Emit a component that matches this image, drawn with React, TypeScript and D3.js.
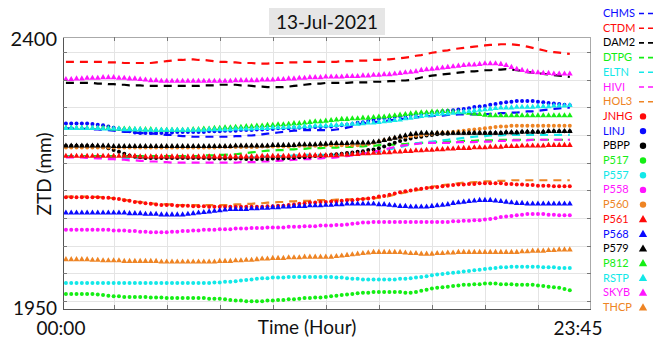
import React, { useEffect, useRef } from 'react';
import * as d3 from 'd3';

// ZTD (mm) per 15-min epoch, 96 epochs from 00:00 to 23:45
const CHMS = [
  2249, 2249, 2248, 2248, 2248, 2247, 2247, 2246, 2246, 2245, 2244, 2243, 2243, 2242, 2241, 2241, 2240, 2240, 2239, 2238,
  2238, 2237, 2236, 2236, 2235, 2235, 2235, 2235, 2235, 2235, 2235, 2235, 2236, 2236, 2237, 2237, 2238, 2239, 2240, 2241,
  2242, 2243, 2244, 2245, 2245, 2246, 2246, 2246, 2246, 2246, 2246, 2247, 2248, 2250, 2252, 2255, 2257, 2258, 2259, 2260,
  2261, 2262, 2263, 2264, 2265, 2266, 2267, 2268, 2269, 2269, 2270, 2270, 2271, 2271, 2272, 2272, 2272, 2272, 2272, 2272,
  2273, 2273, 2274, 2274, 2275, 2275, 2276, 2277, 2277, 2278, 2279, 2280, 2281, 2282, 2283, 2283,
];
const CTDM = [
  2359, 2359, 2359, 2359, 2359, 2359, 2359, 2359, 2358, 2358, 2358, 2357, 2357, 2357, 2357, 2357, 2357, 2358, 2359, 2360,
  2361, 2362, 2362, 2363, 2363, 2362, 2362, 2361, 2360, 2359, 2359, 2358, 2358, 2357, 2357, 2357, 2356, 2356, 2356, 2357,
  2357, 2357, 2358, 2358, 2358, 2359, 2359, 2359, 2359, 2359, 2359, 2359, 2360, 2360, 2360, 2361, 2361, 2361, 2362, 2362,
  2363, 2363, 2364, 2365, 2366, 2367, 2369, 2370, 2372, 2374, 2375, 2377, 2378, 2380, 2381, 2382, 2383, 2384, 2385, 2386,
  2387, 2387, 2388, 2388, 2388, 2387, 2386, 2384, 2382, 2380, 2378, 2376, 2375, 2374, 2373, 2372,
];
const DAM2 = [
  2324, 2324, 2324, 2324, 2324, 2324, 2323, 2323, 2322, 2322, 2321, 2321, 2320, 2320, 2320, 2319, 2319, 2319, 2319, 2319,
  2319, 2319, 2319, 2319, 2319, 2319, 2320, 2320, 2320, 2321, 2321, 2321, 2321, 2320, 2320, 2319, 2318, 2318, 2317, 2317,
  2317, 2317, 2318, 2319, 2320, 2321, 2322, 2323, 2323, 2324, 2324, 2324, 2324, 2324, 2325, 2325, 2325, 2325, 2326, 2326,
  2326, 2327, 2327, 2328, 2328, 2329, 2331, 2333, 2335, 2336, 2337, 2338, 2339, 2340, 2341, 2342, 2343, 2343, 2344, 2345,
  2345, 2346, 2346, 2347, 2346, 2345, 2344, 2342, 2341, 2340, 2339, 2338, 2337, 2336, 2335, 2334,
];
const DTPG = [
  2203, 2203, 2203, 2203, 2203, 2203, 2203, 2203, 2203, 2203, 2203, 2203, 2203, 2203, 2203, 2203, 2203, 2203, 2203, 2203,
  2203, 2203, 2203, 2203, 2203, 2203, 2204, 2204, 2204, 2205, 2205, 2206, 2206, 2207, 2208, 2209, 2210, 2211, 2212, 2212,
  2213, 2213, 2214, 2214, 2215, 2215, 2216, 2216, 2216, 2217, 2217, 2217, 2218, 2218, 2218, 2219, 2219, 2220, 2220, 2221,
  2221, 2222, 2222, 2223, 2223, 2224, 2224, 2225, 2225, 2226, 2226, 2226, 2227, 2227, 2227, 2228, 2228, 2228, 2229, 2229,
  2229, 2229, 2230, 2230, 2230, 2230, 2230, 2230, 2230, 2230, 2230, 2230, 2230, 2230, 2230, 2230,
];
const ELTN = [
  2202, 2202, 2202, 2202, 2201, 2201, 2201, 2201, 2201, 2201, 2200, 2200, 2200, 2200, 2200, 2200, 2200, 2200, 2200, 2200,
  2200, 2200, 2200, 2200, 2200, 2200, 2200, 2200, 2200, 2200, 2200, 2200, 2200, 2201, 2201, 2201, 2201, 2202, 2202, 2202,
  2203, 2203, 2203, 2204, 2204, 2205, 2205, 2205, 2205, 2205, 2205, 2205, 2205, 2206, 2206, 2207, 2207, 2208, 2209, 2210,
  2212, 2214, 2216, 2218, 2220, 2222, 2224, 2225, 2226, 2227, 2228, 2229, 2230, 2231, 2232, 2233, 2234, 2235, 2236, 2236,
  2237, 2237, 2237, 2238, 2238, 2238, 2238, 2238, 2238, 2238, 2238, 2238, 2238, 2238, 2238, 2238,
];
const HIVI = [
  2201, 2201, 2201, 2201, 2200, 2200, 2199, 2199, 2198, 2198, 2197, 2197, 2196, 2196, 2195, 2195, 2194, 2194, 2193, 2193,
  2192, 2192, 2192, 2192, 2192, 2192, 2192, 2192, 2192, 2192, 2192, 2192, 2192, 2193, 2193, 2193, 2193, 2194, 2194, 2195,
  2195, 2196, 2196, 2197, 2197, 2198, 2198, 2199, 2199, 2200, 2200, 2201, 2202, 2203, 2204, 2205, 2207, 2208, 2210, 2212,
  2214, 2216, 2218, 2220, 2221, 2222, 2223, 2224, 2225, 2225, 2225, 2225, 2225, 2225, 2226, 2226, 2226, 2226, 2227, 2227,
  2227, 2228, 2228, 2228, 2229, 2229, 2229, 2229, 2230, 2230, 2230, 2230, 2230, 2230, 2230, 2230,
];
const HOL3 = [
  2136, 2136, 2136, 2136, 2136, 2136, 2135, 2135, 2134, 2133, 2132, 2131, 2129, 2128, 2127, 2126, 2125, 2124, 2124, 2123,
  2123, 2122, 2122, 2122, 2122, 2122, 2122, 2122, 2122, 2122, 2122, 2122, 2123, 2123, 2124, 2124, 2125, 2125, 2126, 2126,
  2127, 2127, 2128, 2128, 2129, 2129, 2129, 2130, 2130, 2130, 2130, 2131, 2131, 2131, 2132, 2132, 2132, 2133, 2133, 2134,
  2135, 2137, 2139, 2141, 2143, 2144, 2146, 2148, 2150, 2152, 2154, 2155, 2156, 2157, 2158, 2159, 2159, 2160, 2160, 2161,
  2161, 2162, 2162, 2162, 2163, 2163, 2163, 2163, 2163, 2163, 2163, 2163, 2163, 2163, 2163, 2163,
];
const JNHG = [
  2135, 2135, 2135, 2135, 2135, 2135, 2135, 2134, 2134, 2133, 2132, 2130, 2129, 2127, 2126, 2125, 2124, 2123, 2122, 2122,
  2122, 2121, 2121, 2121, 2120, 2120, 2120, 2119, 2119, 2119, 2119, 2119, 2119, 2119, 2119, 2119, 2119, 2119, 2120, 2120,
  2121, 2121, 2122, 2123, 2124, 2125, 2126, 2126, 2127, 2127, 2128, 2128, 2129, 2130, 2130, 2131, 2132, 2133, 2134, 2136,
  2137, 2139, 2141, 2143, 2145, 2146, 2148, 2149, 2150, 2151, 2152, 2153, 2154, 2155, 2156, 2156, 2157, 2157, 2158, 2158,
  2158, 2158, 2158, 2157, 2157, 2156, 2156, 2155, 2155, 2154, 2154, 2154, 2153, 2153, 2153, 2153,
];
const LINJ = [
  2257, 2257, 2257, 2257, 2257, 2256, 2255, 2254, 2252, 2250, 2248, 2246, 2244, 2242, 2241, 2241, 2241, 2241, 2241, 2242,
  2242, 2243, 2243, 2243, 2243, 2243, 2243, 2244, 2244, 2244, 2245, 2245, 2245, 2246, 2246, 2246, 2247, 2247, 2248, 2248,
  2249, 2249, 2249, 2250, 2250, 2250, 2251, 2251, 2251, 2252, 2252, 2253, 2254, 2255, 2256, 2258, 2259, 2261, 2263, 2265,
  2266, 2267, 2268, 2269, 2270, 2271, 2272, 2273, 2274, 2275, 2276, 2277, 2278, 2279, 2280, 2281, 2282, 2284, 2285, 2286,
  2288, 2289, 2291, 2292, 2293, 2294, 2294, 2294, 2294, 2293, 2292, 2291, 2290, 2289, 2288, 2287,
];
const PBPP = [
  2220, 2220, 2220, 2220, 2220, 2220, 2219, 2218, 2216, 2213, 2210, 2207, 2204, 2202, 2201, 2200, 2200, 2200, 2200, 2200,
  2200, 2200, 2200, 2200, 2200, 2200, 2200, 2199, 2199, 2199, 2199, 2199, 2199, 2199, 2198, 2198, 2198, 2198, 2198, 2199,
  2199, 2199, 2200, 2200, 2201, 2201, 2202, 2203, 2203, 2204, 2205, 2206, 2207, 2208, 2209, 2210, 2211, 2213, 2214, 2216,
  2219, 2222, 2225, 2228, 2230, 2232, 2234, 2235, 2237, 2238, 2239, 2240, 2240, 2241, 2241, 2241, 2241, 2241, 2241, 2241,
  2241, 2241, 2241, 2242, 2242, 2242, 2243, 2243, 2243, 2243, 2243, 2244, 2244, 2244, 2244, 2244,
];
const P517 = [
  1975, 1975, 1975, 1975, 1975, 1975, 1974, 1973, 1972, 1971, 1971, 1970, 1970, 1970, 1970, 1970, 1969, 1969, 1969, 1968,
  1968, 1968, 1968, 1968, 1968, 1968, 1968, 1967, 1967, 1967, 1966, 1965, 1964, 1964, 1963, 1963, 1963, 1963, 1964, 1964,
  1965, 1965, 1966, 1966, 1967, 1968, 1968, 1969, 1969, 1970, 1971, 1972, 1973, 1974, 1975, 1976, 1977, 1977, 1978, 1978,
  1978, 1978, 1978, 1978, 1977, 1977, 1978, 1980, 1982, 1984, 1985, 1986, 1987, 1988, 1989, 1990, 1990, 1991, 1991, 1992,
  1992, 1992, 1991, 1991, 1991, 1990, 1990, 1990, 1990, 1989, 1988, 1987, 1986, 1985, 1983, 1981,
];
const P557 = [
  1993, 1993, 1993, 1993, 1993, 1993, 1993, 1993, 1993, 1993, 1993, 1993, 1993, 1993, 1993, 1993, 1993, 1993, 1993, 1993,
  1993, 1993, 1993, 1993, 1993, 1993, 1993, 1993, 1994, 1994, 1995, 1995, 1996, 1997, 1998, 1999, 2000, 2001, 2001, 2002,
  2002, 2002, 2003, 2003, 2003, 2003, 2003, 2003, 2003, 2003, 2003, 2002, 2002, 2001, 2000, 2000, 1999, 1999, 1999, 1999,
  1999, 1999, 1999, 2000, 2000, 2001, 2002, 2003, 2004, 2006, 2007, 2008, 2009, 2010, 2011, 2012, 2013, 2014, 2015, 2016,
  2017, 2018, 2019, 2019, 2020, 2020, 2020, 2020, 2020, 2020, 2019, 2019, 2019, 2018, 2018, 2018,
];
const P558 = [
  2081, 2081, 2081, 2081, 2081, 2081, 2081, 2081, 2081, 2080, 2080, 2080, 2079, 2079, 2078, 2078, 2077, 2077, 2077, 2077,
  2078, 2078, 2079, 2079, 2080, 2080, 2081, 2081, 2081, 2082, 2082, 2082, 2083, 2083, 2083, 2084, 2084, 2084, 2085, 2085,
  2085, 2085, 2086, 2086, 2086, 2087, 2087, 2087, 2088, 2088, 2088, 2089, 2089, 2090, 2091, 2092, 2093, 2093, 2094, 2094,
  2094, 2094, 2094, 2094, 2094, 2094, 2094, 2094, 2094, 2094, 2094, 2094, 2094, 2095, 2095, 2096, 2096, 2097, 2097, 2098,
  2099, 2100, 2102, 2103, 2104, 2105, 2106, 2107, 2107, 2107, 2107, 2106, 2106, 2105, 2105, 2105,
];
const P560 = [
  2217, 2217, 2217, 2217, 2217, 2217, 2217, 2217, 2217, 2217, 2217, 2217, 2217, 2217, 2217, 2217, 2217, 2217, 2217, 2217,
  2217, 2217, 2217, 2217, 2217, 2217, 2217, 2217, 2217, 2218, 2218, 2218, 2218, 2218, 2218, 2218, 2218, 2219, 2219, 2219,
  2219, 2219, 2219, 2220, 2220, 2220, 2220, 2220, 2221, 2221, 2221, 2221, 2221, 2221, 2221, 2221, 2222, 2223, 2225, 2227,
  2229, 2231, 2233, 2234, 2235, 2236, 2237, 2238, 2239, 2240, 2241, 2242, 2242, 2243, 2244, 2245, 2246, 2247, 2248, 2249,
  2250, 2251, 2252, 2252, 2253, 2253, 2253, 2253, 2253, 2253, 2253, 2253, 2253, 2253, 2253, 2253,
];
const P561 = [
  2203, 2203, 2203, 2203, 2203, 2203, 2203, 2203, 2203, 2203, 2203, 2203, 2203, 2203, 2202, 2202, 2202, 2202, 2202, 2202,
  2202, 2202, 2202, 2202, 2202, 2202, 2202, 2202, 2202, 2202, 2202, 2202, 2202, 2202, 2202, 2202, 2202, 2203, 2203, 2203,
  2203, 2203, 2203, 2203, 2204, 2204, 2204, 2204, 2204, 2204, 2204, 2204, 2205, 2205, 2206, 2206, 2207, 2207, 2208, 2208,
  2209, 2209, 2210, 2210, 2211, 2211, 2212, 2212, 2213, 2213, 2214, 2214, 2215, 2215, 2216, 2216, 2216, 2217, 2217, 2217,
  2218, 2218, 2218, 2219, 2219, 2219, 2220, 2220, 2220, 2220, 2220, 2221, 2221, 2221, 2221, 2221,
];
const P568 = [
  2109, 2109, 2109, 2109, 2109, 2109, 2109, 2109, 2109, 2109, 2109, 2109, 2108, 2108, 2108, 2107, 2107, 2107, 2106, 2106,
  2106, 2106, 2106, 2107, 2108, 2109, 2110, 2111, 2112, 2113, 2114, 2115, 2115, 2115, 2115, 2116, 2116, 2117, 2117, 2118,
  2118, 2119, 2119, 2120, 2120, 2120, 2121, 2121, 2121, 2122, 2122, 2123, 2123, 2124, 2124, 2124, 2124, 2124, 2124, 2123,
  2123, 2122, 2121, 2120, 2120, 2119, 2119, 2119, 2119, 2120, 2121, 2122, 2123, 2125, 2126, 2127, 2128, 2129, 2130, 2130,
  2130, 2129, 2128, 2127, 2126, 2125, 2125, 2124, 2124, 2124, 2124, 2124, 2124, 2124, 2124, 2124,
];
const P579 = [
  2220, 2220, 2220, 2220, 2220, 2220, 2220, 2220, 2220, 2219, 2219, 2219, 2219, 2219, 2219, 2219, 2219, 2219, 2219, 2219,
  2219, 2219, 2219, 2219, 2219, 2219, 2219, 2219, 2219, 2219, 2219, 2219, 2220, 2220, 2220, 2220, 2220, 2220, 2220, 2221,
  2221, 2221, 2221, 2221, 2222, 2222, 2222, 2222, 2223, 2223, 2224, 2224, 2224, 2224, 2225, 2225, 2225, 2225, 2226, 2227,
  2229, 2231, 2233, 2235, 2237, 2239, 2240, 2241, 2241, 2241, 2241, 2241, 2241, 2241, 2241, 2241, 2241, 2241, 2241, 2241,
  2241, 2241, 2241, 2242, 2242, 2242, 2243, 2243, 2243, 2243, 2243, 2244, 2244, 2244, 2244, 2244,
];
const P812 = [
  2249, 2249, 2249, 2249, 2249, 2249, 2249, 2249, 2249, 2248, 2248, 2248, 2248, 2247, 2247, 2247, 2247, 2246, 2246, 2246,
  2246, 2246, 2246, 2246, 2247, 2247, 2248, 2248, 2249, 2249, 2250, 2250, 2251, 2251, 2252, 2252, 2253, 2253, 2254, 2254,
  2255, 2255, 2256, 2257, 2257, 2258, 2259, 2260, 2260, 2261, 2262, 2263, 2264, 2264, 2265, 2265, 2266, 2266, 2267, 2268,
  2268, 2269, 2270, 2271, 2272, 2273, 2274, 2275, 2275, 2276, 2276, 2277, 2277, 2276, 2276, 2275, 2274, 2273, 2272, 2271,
  2270, 2270, 2270, 2270, 2270, 2270, 2270, 2270, 2270, 2270, 2270, 2270, 2270, 2270, 2270, 2270,
];
const RSTP = [
  2249, 2249, 2249, 2249, 2249, 2249, 2249, 2248, 2248, 2248, 2248, 2247, 2247, 2247, 2247, 2246, 2246, 2246, 2246, 2246,
  2246, 2246, 2246, 2246, 2246, 2246, 2246, 2247, 2247, 2247, 2247, 2247, 2248, 2248, 2248, 2248, 2249, 2249, 2249, 2250,
  2250, 2250, 2251, 2251, 2251, 2252, 2252, 2253, 2253, 2253, 2254, 2254, 2255, 2255, 2256, 2256, 2257, 2258, 2258, 2259,
  2260, 2261, 2262, 2263, 2265, 2266, 2268, 2269, 2270, 2271, 2272, 2273, 2273, 2274, 2275, 2276, 2277, 2278, 2279, 2280,
  2281, 2282, 2283, 2283, 2283, 2284, 2284, 2284, 2284, 2285, 2285, 2285, 2286, 2286, 2286, 2287,
];
const SKYB = [
  2330, 2330, 2331, 2331, 2332, 2332, 2332, 2333, 2333, 2333, 2332, 2332, 2331, 2331, 2330, 2329, 2328, 2328, 2327, 2327,
  2327, 2327, 2327, 2327, 2327, 2327, 2327, 2327, 2327, 2327, 2327, 2327, 2328, 2328, 2328, 2328, 2328, 2329, 2329, 2329,
  2330, 2330, 2331, 2331, 2332, 2332, 2333, 2333, 2333, 2334, 2334, 2334, 2334, 2335, 2335, 2335, 2336, 2336, 2337, 2337,
  2338, 2338, 2339, 2340, 2341, 2342, 2343, 2345, 2346, 2347, 2348, 2349, 2350, 2351, 2352, 2353, 2354, 2354, 2355, 2356,
  2356, 2356, 2355, 2353, 2350, 2347, 2345, 2343, 2342, 2341, 2340, 2340, 2339, 2339, 2339, 2339,
];
const THCP = [
  2032, 2032, 2032, 2032, 2032, 2031, 2031, 2030, 2030, 2030, 2030, 2029, 2029, 2029, 2029, 2029, 2029, 2029, 2028, 2028,
  2028, 2028, 2028, 2028, 2028, 2028, 2028, 2028, 2028, 2029, 2029, 2029, 2030, 2030, 2031, 2031, 2032, 2033, 2033, 2034,
  2034, 2034, 2035, 2035, 2035, 2036, 2036, 2036, 2036, 2036, 2036, 2037, 2038, 2039, 2040, 2041, 2042, 2043, 2044, 2044,
  2044, 2044, 2044, 2044, 2043, 2042, 2042, 2041, 2041, 2041, 2042, 2042, 2043, 2043, 2044, 2044, 2044, 2044, 2044, 2044,
  2044, 2044, 2044, 2044, 2044, 2044, 2045, 2045, 2046, 2046, 2046, 2047, 2047, 2048, 2048, 2048,
];

const stations = [
  'CHMS', 'CTDM', 'DAM2', 'DTPG', 'ELTN', 'HIVI', 'HOL3',
  'JNHG', 'LINJ', 'PBPP', 'P517', 'P557', 'P558', 'P560',
  'P561', 'P568', 'P579', 'P812', 'RSTP', 'SKYB', 'THCP',
];
const stationValues = [
  CHMS, CTDM, DAM2, DTPG, ELTN, HIVI, HOL3,
  JNHG, LINJ, PBPP, P517, P557, P558, P560,
  P561, P568, P579, P812, RSTP, SKYB, THCP,
];
const markers = [
  'dash', 'dash', 'dash', 'dash', 'dash', 'dash', 'dash',
  'dot', 'dot', 'dot', 'dot', 'dot', 'dot', 'dot',
  'tri', 'tri', 'tri', 'tri', 'tri', 'tri', 'tri',
];

const BLUE = '#0a0aff';
const RED = '#ff0a0a';
const BLACK = '#000000';
const GREEN = '#14ee14';
const CYAN = '#12e8e8';
const MAGENTA = '#ff14ff';
const ORANGE = '#ee8424';
const colors = [
  BLUE, RED, BLACK, GREEN, CYAN, MAGENTA, ORANGE,
  RED, BLUE, BLACK, GREEN, CYAN, MAGENTA, ORANGE,
  RED, BLUE, BLACK, GREEN, CYAN, MAGENTA, ORANGE,
];

// epoch numbers 1..96 on the x axis, grid every 10 epochs
const xGridTicks = [10, 20, 30, 40, 50, 60, 70, 80, 90];
const xEndLabels = ['00:00', '23:45'];
const yEndLabels = ['2400', '1950'];
const title = '13-Jul-2021';

const FONT = 'Lato, "Open Sans", sans-serif';

export default function App() {
  const ref = useRef<SVGSVGElement>(null);

  useEffect(() => {
    const svg = d3.select(ref.current);
    svg.selectAll('*').remove();

    const left = 63, right = 591, top = 37, bottom = 309;

    const x = d3.scaleLinear().domain([0.45, 100]).range([left, right]);
    const y = d3.scaleLinear().domain([1950, 2400]).range([bottom, top]);
    const yGridTicks = d3.range(10).map((k) => 1963.2 + k * 45.78);

    svg.append('rect').attr('width', 660).attr('height', 339).attr('fill', '#fff');

    // grid
    const grid = svg.append('g').attr('stroke', '#e4e4e4').attr('stroke-width', 1);
    grid.selectAll('line.v')
      .data(xGridTicks)
      .enter()
      .append('line')
      .attr('x1', (d) => Math.round(x(d)) + 0.5)
      .attr('x2', (d) => Math.round(x(d)) + 0.5)
      .attr('y1', top)
      .attr('y2', bottom);
    grid.selectAll('line.h')
      .data(yGridTicks)
      .enter()
      .append('line')
      .attr('x1', left)
      .attr('x2', right)
      .attr('y1', (d) => Math.round(y(d)) + 0.5)
      .attr('y2', (d) => Math.round(y(d)) + 0.5);

    // series
    const line = d3.line<number>()
      .x((d, i) => x(i + 1))
      .y((d) => y(d));

    const plot = svg.append('g');
    stationValues.forEach((vals, si) => {
      const c = colors[si];
      if (markers[si] === 'dash') {
        plot.append('path')
          .attr('d', line(vals) as string)
          .attr('fill', 'none')
          .attr('stroke', c)
          .attr('stroke-width', 2.2)
          .attr('stroke-dasharray', '8,6');
      } else if (markers[si] === 'dot') {
        plot.append('g')
          .selectAll('circle')
          .data(vals)
          .enter()
          .append('circle')
          .attr('cx', (d, i) => x(i + 1))
          .attr('cy', (d) => y(d))
          .attr('r', 2)
          .attr('fill', c);
      } else {
        const tri = d3.symbol().type(d3.symbolTriangle).size(15);
        plot.append('g')
          .selectAll('path')
          .data(vals)
          .enter()
          .append('path')
          .attr('d', tri() as string)
          .attr('transform', (d, i) => `translate(${x(i + 1)},${y(d)})`)
          .attr('fill', c);
      }
    });

    // frame
    const frame = svg.append('g').attr('fill', 'none');
    frame.append('line').attr('x1', left + 0.5).attr('x2', left + 0.5).attr('y1', top).attr('y2', bottom)
      .attr('stroke', '#555');
    frame.append('line').attr('x1', left).attr('x2', right).attr('y1', bottom + 0.5).attr('y2', bottom + 0.5)
      .attr('stroke', '#555');
    frame.append('line').attr('x1', left).attr('x2', right).attr('y1', top + 0.5).attr('y2', top + 0.5)
      .attr('stroke', '#aaa');
    frame.append('line').attr('x1', right - 0.5).attr('x2', right - 0.5).attr('y1', top).attr('y2', bottom)
      .attr('stroke', '#aaa');

    const ticks = svg.append('g').attr('stroke', '#777');
    xGridTicks.forEach((t) => {
      const px = Math.round(x(t)) + 0.5;
      ticks.append('line').attr('x1', px).attr('x2', px).attr('y1', bottom).attr('y2', bottom - 4);
      ticks.append('line').attr('x1', px).attr('x2', px).attr('y1', top).attr('y2', top + 4);
    });
    yGridTicks.forEach((t) => {
      const py = Math.round(y(t)) + 0.5;
      ticks.append('line').attr('x1', left).attr('x2', left + 4).attr('y1', py).attr('y2', py);
      ticks.append('line').attr('x1', right).attr('x2', right - 4).attr('y1', py).attr('y2', py);
    });

    // title box (drawn before the texts so it sits behind)
    svg.append('rect').attr('x', 269).attr('y', 8).attr('width', 116).attr('height', 27).attr('fill', '#e6e6e6');

    // axis texts
    const txt = svg.append('g').style('font-family', FONT).attr('fill', '#111');
    txt.append('text').text(yEndLabels[0]).attr('x', 57).attr('y', 46)
      .attr('text-anchor', 'end').style('font-size', '20px');
    txt.append('text').text(yEndLabels[1]).attr('x', 57).attr('y', 315)
      .attr('text-anchor', 'end').style('font-size', '19px');
    txt.append('text').text(xEndLabels[0]).attr('x', 61).attr('y', 335)
      .attr('text-anchor', 'middle').style('font-size', '19px');
    txt.append('text').text(xEndLabels[1]).attr('x', 578).attr('y', 335)
      .attr('text-anchor', 'middle').style('font-size', '19px');
    txt.append('text').text('Time (Hour)').attr('x', 307).attr('y', 334)
      .attr('text-anchor', 'middle').style('font-size', '19px');
    txt.append('text').text('ZTD (mm)')
      .attr('transform', 'translate(51,174) rotate(-90)')
      .attr('text-anchor', 'middle').style('font-size', '19px');
    txt.append('text').text(title).attr('x', 327).attr('y', 29)
      .attr('text-anchor', 'middle').style('font-size', '19px');

    // legend
    const legend = svg.append('g')
      .selectAll('g')
      .data(stations)
      .enter()
      .append('g')
      .attr('transform', (d, i) => `translate(0, ${13 + i * 14.7})`);

    legend.append('text')
      .text((d) => d)
      .attr('x', 603)
      .attr('y', 4)
      .style('font-family', FONT)
      .style('font-size', '11px')
      .attr('fill', (d, i) => colors[i]);

    legend.each(function (d, i) {
      const g = d3.select(this);
      const c = colors[i];
      if (markers[i] === 'dash') {
        g.append('line').attr('x1', 639).attr('x2', 653).attr('y1', 0.5).attr('y2', 0.5)
          .attr('stroke', c).attr('stroke-width', 1.6).attr('stroke-dasharray', '5,4');
      } else if (markers[i] === 'dot') {
        g.append('circle').attr('cx', 643).attr('cy', 0.5).attr('r', 3.2).attr('fill', c);
      } else {
        g.append('path').attr('d', d3.symbol().type(d3.symbolTriangle).size(30)() as string)
          .attr('transform', 'translate(643,1)').attr('fill', c);
      }
    });
  }, []);

  return (
    <svg
      ref={ref}
      width={660}
      height={339}
      style={{ position: 'fixed', left: 0, top: 0, display: 'block' }}
    />
  );
}
